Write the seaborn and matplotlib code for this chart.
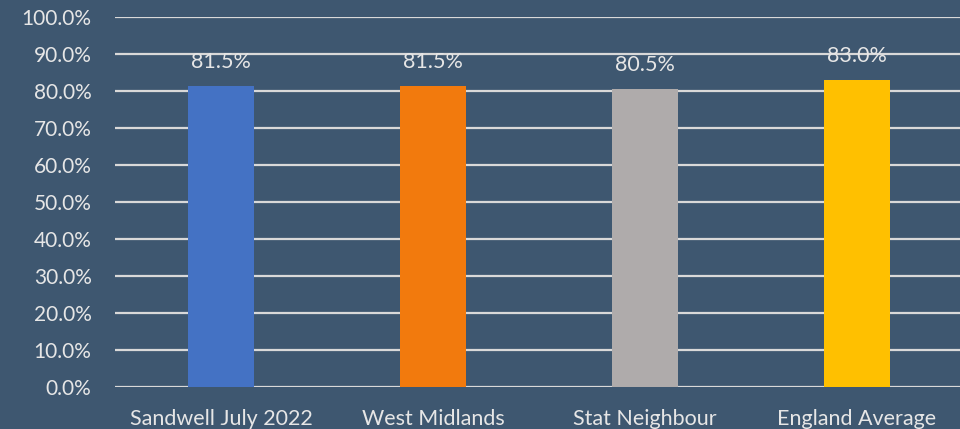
import matplotlib
matplotlib.use("Agg")
import matplotlib.pyplot as plt
import seaborn as sns
import pandas as pd
from matplotlib.ticker import PercentFormatter

# Chart data
categories = ["Sandwell July 2022", "West Midlands", "Stat Neighbour", "England Average"]
values = [81.5, 81.5, 80.5, 83.0]
bar_colors = ["#4472C4", "#F27A0D", "#AFABAB", "#FFC000"]
y_ticks = [0, 10, 20, 30, 40, 50, 60, 70, 80, 90, 100]

BG = "#3E5770"
TEXT = "#E6E6E6"
GRID = "#D9D9D9"

sns.set_theme(style="white")
plt.rcParams['font.family'] = ['Lato', 'DejaVu Sans']

df = pd.DataFrame({"Category": categories, "Value": values})

fig = plt.figure(figsize=(9.6, 4.29), dpi=100, facecolor=BG)
ax = fig.add_axes([0.12, 0.098, 0.883, 0.862])
ax.set_facecolor(BG)

sns.barplot(data=df, x="Category", y="Value", hue="Category",
            palette=bar_colors, width=0.31, saturation=1, linewidth=0,
            legend=False, ax=ax)
for p in ax.patches:
    p.set_zorder(3)

ax.set_ylim(0, 100)
ax.set_yticks(y_ticks)
ax.yaxis.set_major_formatter(PercentFormatter(decimals=1))
ax.grid(axis="y", color=GRID, linewidth=1.6, zorder=0)
ax.set_axisbelow(True)
for s in ax.spines.values():
    s.set_visible(False)

ax.tick_params(axis="y", length=0, pad=17, labelsize=15, labelcolor=TEXT)
ax.tick_params(axis="x", length=0, pad=16, labelsize=15.5, labelcolor=TEXT)
ax.set_xlabel("")
ax.set_ylabel("")

# Data labels
for i, v in enumerate(values):
    ax.annotate(f"{v:.1f}%", (i, v), xytext=(0, 10), textcoords="offset points",
                ha="center", va="bottom", color=TEXT, fontsize=15.5)

plt.savefig("out.png", dpi=100, facecolor=BG)
